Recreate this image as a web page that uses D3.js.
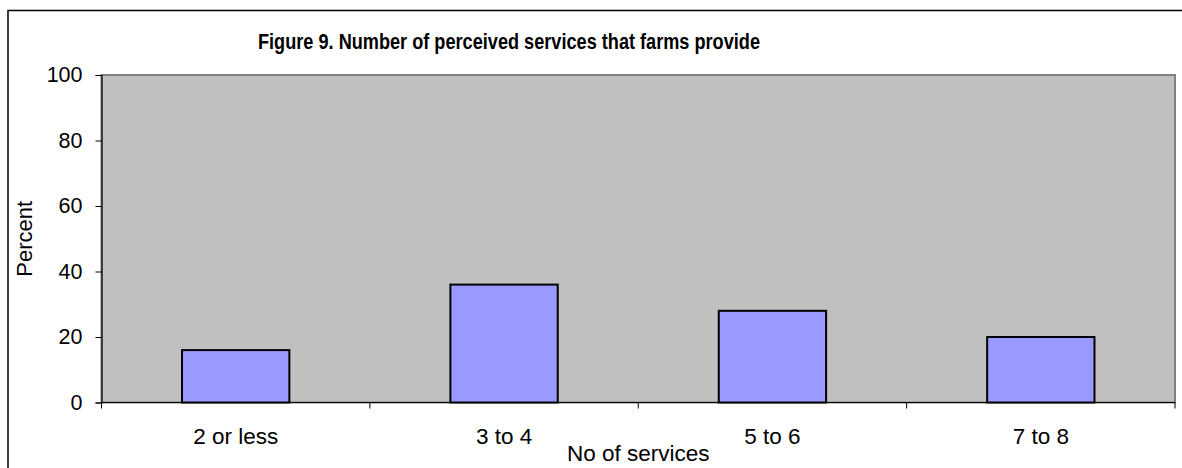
<!DOCTYPE html>
<html><head><meta charset="utf-8">
<script src="https://cdn.jsdelivr.net/npm/d3@7"></script>
<style>html,body{margin:0;background:#fff;overflow:hidden}svg{display:block}text{font-family:Arial,"Liberation Sans",sans-serif;fill:#000}</style>
</head><body><svg id="c" width="1182" height="468"></svg>
<script>
const categories = ["2 or less", "3 to 4", "5 to 6", "7 to 8"];
const values = [16, 36, 28, 20];
const yTicks = [0, 20, 40, 60, 80, 100];
const title = "Figure 9. Number of perceived services that farms provide";
const xTitle = "No of services";
const yTitle = "Percent";

const svg = d3.select("#c");
const L = 101.5, R = 1175, T = 75, B = 402.5;

svg.append("path").attr("d", "M8,470V10.5H1190").attr("fill", "none")
  .attr("stroke", "#000").attr("stroke-width", 1.5);

const x = d3.scaleBand().domain(categories).range([L, R]).paddingInner(0.6).paddingOuter(0.3);
const xb = d3.scaleBand().domain(categories).range([L, R]);
const y = d3.scaleLinear().domain([0, 100]).range([B, T]);

svg.append("rect").attr("x", L).attr("y", T).attr("width", R - L).attr("height", B - T)
  .attr("fill", "#c0c0c0").attr("stroke", "#808080").attr("stroke-width", 2);

svg.selectAll(".bar").data(values).join("rect")
  .attr("x", (d, i) => x(categories[i]))
  .attr("width", x.bandwidth())
  .attr("y", d => y(d))
  .attr("height", d => y(0) - y(d))
  .attr("fill", "#9999ff").attr("stroke", "#000").attr("stroke-width", 2);

// y axis
const ya = svg.append("g").attr("transform", `translate(${L},0)`)
  .call(d3.axisLeft(y).tickValues(yTicks).tickSize(6).tickPadding(13));
ya.select(".domain").attr("stroke", "#000").attr("stroke-width", 1.2);
ya.selectAll(".tick line").attr("stroke", "#000");
ya.selectAll("text").attr("font-size", 21.5).style("font-family", "Arial, 'Liberation Sans', sans-serif");

// x axis with ticks at category boundaries
const xa = svg.append("g").attr("transform", `translate(0,${B})`);
xa.append("line").attr("x1", L).attr("x2", R).attr("stroke", "#000").attr("stroke-width", 1.2);
const bounds = categories.map(c => xb(c)).concat([R]);
xa.selectAll(".tk").data(bounds).join("line")
  .attr("x1", d => d).attr("x2", d => d).attr("y1", 0).attr("y2", 6).attr("stroke", "#000");
xa.selectAll(".lbl").data(categories).join("text")
  .attr("x", d => xb(d) + xb.bandwidth() / 2).attr("y", 41)
  .attr("text-anchor", "middle").attr("font-size", 22.5).text(d => d);

svg.append("text").attr("x", (L + R) / 2).attr("y", 461).attr("text-anchor", "middle")
  .attr("font-size", 22.5).text(xTitle);
svg.append("text").attr("transform", `translate(32,${(T + B) / 2}) rotate(-90)`)
  .attr("text-anchor", "middle").attr("font-size", 22).text(yTitle);

svg.append("text").attr("x", 509).attr("y", 49).attr("text-anchor", "middle")
  .attr("font-size", 22.5).attr("font-weight", "bold")
  .attr("textLength", 502).attr("lengthAdjust", "spacingAndGlyphs").text(title);
</script></body></html>
